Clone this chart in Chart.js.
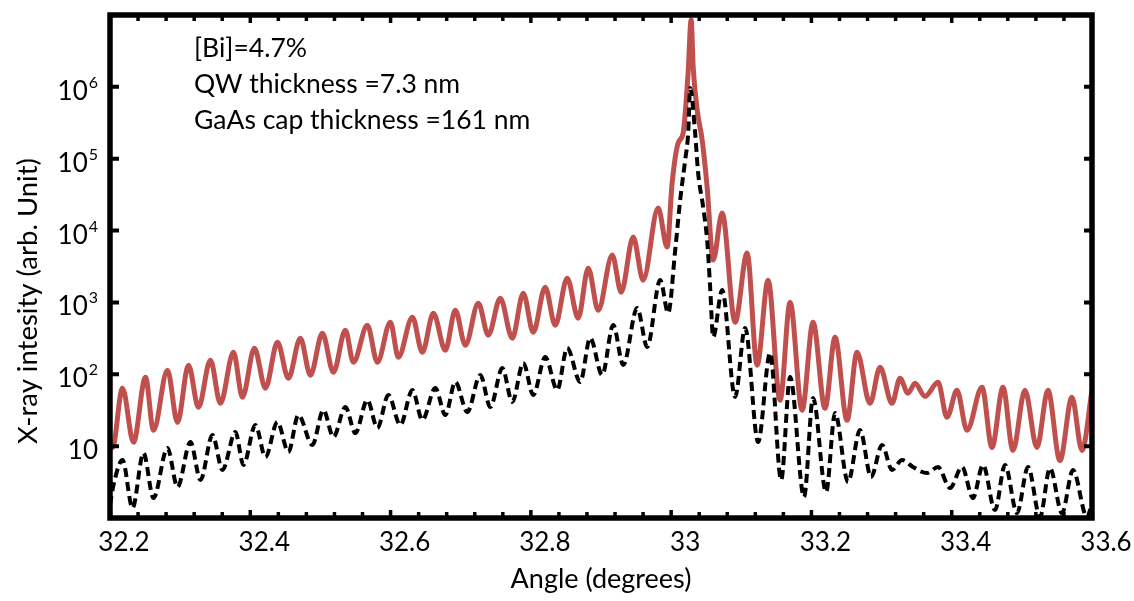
<!DOCTYPE html>
<html lang="en">
<head>
    <meta charset="UTF-8">
    <title>XRD rocking curve</title>
    <script src="https://cdn.jsdelivr.net/npm/chart.js@4.4.0/dist/chart.umd.min.js"></script>
    <style>
        body { margin: 0; background: #fff; }
    </style>
</head>
<body>
    <canvas id="myChart" width="1134" height="601"></canvas>
    <script>
        let measAngle = [32.2, 32.2036, 32.2178, 32.2335, 32.2506, 32.262, 32.2819, 32.2962, 32.3119, 32.3261,
            32.3432, 32.3574, 32.376, 32.3888, 32.4059, 32.4216, 32.4387, 32.4543, 32.4714, 32.4857,
            32.5028, 32.5185, 32.5356, 32.547, 32.5669, 32.5812, 32.5997, 32.6111, 32.6311, 32.6453,
            32.661, 32.6781, 32.6923, 32.7066, 32.7251, 32.7393, 32.7564, 32.7735, 32.7892, 32.8034,
            32.8205, 32.8347, 32.8518, 32.8675, 32.8818, 32.896, 32.916, 32.9288, 32.9459, 32.9601,
            32.9815, 32.9943, 33.0014, 33.01, 33.0171, 33.0242, 33.0285, 33.0314, 33.0371, 33.0442,
            33.0513, 33.0599, 33.0727, 33.0912, 33.1083, 33.1226, 33.1382, 33.1553, 33.1696, 33.1867,
            33.2023, 33.2194, 33.2337, 33.2508, 33.265, 33.2835, 33.2978, 33.3149, 33.3263, 33.3377,
            33.3477, 33.3619, 33.3805, 33.3933, 33.4075, 33.4218, 33.4432, 33.4574, 33.4731, 33.4873,
            33.5044, 33.5215, 33.5372, 33.5543, 33.5714, 33.5857, 33.6];
        let measIntensity = [12, 9.6, 64, 11.3, 91, 16.6, 114, 21.4, 134, 34.7,
            157, 39.4, 203, 47.8, 230, 64, 279, 88, 318, 97,
            373, 107, 411, 147, 482, 147, 531, 173, 623, 203,
            708, 216, 780, 254, 976, 350, 1146, 318, 1345, 385,
            1632, 482, 2177, 603, 3001, 780, 4555, 1389, 8119, 2042,
            20580, 5888, 45910, 165800, 228500, 1567000, 8580000, 1900000, 478000, 182500,
            40390, 3880, 17530, 530, 4857, 134, 2042, 43.4, 1008, 31.5,
            530, 33.6, 328, 22.9, 203, 39.4, 125, 39.4, 88, 54.4,
            75, 49.4, 77.3, 25.2, 59.8, 16.6, 65.9, 9.6, 65.9, 8.7,
            59.8, 9.6, 59.8, 6.3, 47.8, 8.7, 60];

        // simulated scan (black, dashed)
        let simAngle = [32.2, 32.205, 32.2178, 32.2321, 32.2477, 32.262, 32.2819, 32.2962, 32.3147, 32.329,
            32.3461, 32.3603, 32.3788, 32.3902, 32.4073, 32.4216, 32.4387, 32.4543, 32.4686, 32.4885,
            32.5042, 32.5185, 32.5356, 32.5498, 32.5669, 32.5812, 32.5968, 32.6139, 32.6311, 32.6453,
            32.6638, 32.6781, 32.6923, 32.7094, 32.7279, 32.7422, 32.7593, 32.7735, 32.7892, 32.8034,
            32.8205, 32.8376, 32.8518, 32.8704, 32.8846, 32.9017, 32.9174, 32.9317, 32.9516, 32.9659,
            32.9844, 32.9958, 33.0058, 33.0129, 33.02, 33.0243, 33.0271, 33.0342, 33.0385, 33.0456,
            33.0513, 33.0556, 33.0599, 33.0727, 33.0912, 33.1055, 33.124, 33.1411, 33.1568, 33.1696,
            33.1895, 33.2023, 33.2209, 33.2337, 33.2522, 33.2693, 33.285, 33.3007, 33.3149, 33.3292,
            33.3448, 33.3648, 33.3805, 33.3976, 33.4147, 33.4303, 33.4446, 33.4617, 33.476, 33.4931,
            33.5088, 33.5259, 33.5401, 33.5572, 33.5729, 33.5928, 33.6];
        let simIntensity = [1.52, 2.88, 6.41, 1.38, 8.03, 1.9, 9.42, 2.7, 11.4, 3.38,
            14.3, 4.66, 15.7, 5.47, 19.7, 7.06, 21.7, 8.29, 27.1, 10.4,
            31.8, 13.4, 35, 15.2, 43.9, 17.9, 51.5, 19.7, 60.4, 23.1,
            64.4, 27.1, 78.1, 29.9, 97.7, 35, 122, 41.1, 144, 51.5,
            174, 60.4, 232, 78.1, 320, 97.7, 485, 135, 836, 240,
            2051, 713, 5363, 26630, 95920, 227900, 963700, 227900, 63240, 21280,
            7389, 1639, 330, 1489, 48.3, 441, 11.4, 198, 3.38, 91.7,
            1.96, 46.8, 2.3, 28.9, 3.17, 16.8, 3.72, 10.4, 4.66, 6.41,
            5.13, 4.23, 5.13, 2.62, 5.13, 1.9, 5.47, 1.29, 5.47, 1.17,
            5.13, 1.03, 4.96, 1.17, 4.66, 1.03, 1.62];

        let xTickValues = [32.2, 32.4, 32.6, 32.8, 33, 33.2, 33.4, 33.6];
        let xTickLabels = ['32.2', '32.4', '32.6', '32.8', '33', '33.2', '33.4', '33.6'];
        let yTickValues = [10, 100, 1000, 10000, 100000, 1000000];
        let yTickExp = ['', '2', '3', '4', '5', '6'];
        let notes = ['[Bi]=4.7%', 'QW thickness =7.3 nm', 'GaAs cap thickness =161 nm'];

        const FONT = 'Lato';

        // frame, inward ticks, y labels with exponents, y title and the notes
        const framePlugin = {
            id: 'framePlugin',
            afterDatasetsDraw(chart) {
                const c = chart.ctx;
                const a = chart.chartArea;
                const xs = chart.scales.x;
                const ys = chart.scales.y;
                c.save();
                c.strokeStyle = '#000';
                c.fillStyle = '#000';
                c.lineWidth = 3.5;
                // minor x ticks every 0.04, major every 0.2
                for (let i = 0; i <= 35; i++) {
                    let px = xs.getPixelForValue(32.2 + i * 0.04);
                    let len = (i % 5 === 0) ? 8 : 6;
                    c.beginPath();
                    c.moveTo(px, a.bottom); c.lineTo(px, a.bottom - len);
                    c.moveTo(px, a.top); c.lineTo(px, a.top + len);
                    c.stroke();
                }
                c.lineWidth = 4;
                yTickValues.forEach(v => {
                    let py = ys.getPixelForValue(v);
                    c.beginPath();
                    c.moveTo(a.left, py); c.lineTo(a.left + 9, py);
                    c.moveTo(a.right, py); c.lineTo(a.right - 8, py);
                    c.stroke();
                });
                c.lineWidth = 5.5;
                c.strokeRect(a.left, a.top, a.right - a.left, a.bottom - a.top);

                // y tick labels: 10, 10^2 ... 10^6
                c.textBaseline = 'alphabetic';
                c.textAlign = 'right';
                yTickValues.forEach((v, i) => {
                    let py = ys.getPixelForValue(v);
                    let right = 98;
                    if (yTickExp[i]) {
                        c.font = '16px ' + FONT;
                        c.fillText(yTickExp[i], right, py + 1);
                        right -= c.measureText(yTickExp[i]).width + 1;
                    }
                    c.font = '26px ' + FONT;
                    c.fillText('10', right, py + 13);
                });

                // y axis title
                c.save();
                c.translate(28, 301);
                c.rotate(-Math.PI / 2);
                c.textAlign = 'center';
                c.textBaseline = 'middle';
                c.font = '27.5px ' + FONT;
                c.fillText('X-ray intesity (arb. Unit)', 0, 0);
                c.restore();

                // notes in the upper left
                c.textAlign = 'left';
                c.textBaseline = 'alphabetic';
                c.font = '26.5px ' + FONT;
                notes.forEach((t, i) => {
                    c.fillText(t, 194, 57 + i * 35.75);
                });
                c.restore();
            }
        };

        var ctx = document.getElementById('myChart').getContext('2d');
        var myChart = new Chart(ctx, {
            type: 'line',
            data: {
                datasets: [
                    {
                        label: 'simulation',
                        data: simAngle.map((x, i) => ({ x: x, y: simIntensity[i] })),
                        borderColor: '#000000',
                        borderWidth: 4,
                        borderDash: [9, 5],
                        pointRadius: 0,
                        cubicInterpolationMode: 'monotone',
                        fill: false
                    },
                    {
                        label: 'measurement',
                        data: measAngle.map((x, i) => ({ x: x, y: measIntensity[i] })),
                        borderColor: '#C0504D',
                        borderWidth: 5,
                        pointRadius: 0,
                        cubicInterpolationMode: 'monotone',
                        fill: false
                    }
                ]
            },
            options: {
                responsive: false,
                animation: false,
                layout: { padding: { left: 0, right: 42, top: 15, bottom: 0 } },
                plugins: {
                    legend: { display: false },
                    tooltip: { enabled: false }
                },
                scales: {
                    x: {
                        type: 'linear',
                        min: 32.2,
                        max: 33.6,
                        grid: { display: false, drawTicks: false },
                        border: { display: false },
                        afterFit: s => { s.height = 83; },
                        afterBuildTicks: s => { s.ticks = xTickValues.map(v => ({ value: v })); },
                        ticks: {
                            autoSkip: false,
                            maxRotation: 0,
                            padding: 9,
                            labelOffset: 14,
                            color: '#000',
                            font: { family: FONT, size: 26 },
                            callback: (v, i) => xTickLabels[i]
                        },
                        title: {
                            display: true,
                            text: 'Angle (degrees)',
                            color: '#000',
                            font: { family: FONT, size: 27 },
                            padding: { top: 0, bottom: 6 }
                        }
                    },
                    y: {
                        type: 'logarithmic',
                        min: 1,
                        max: 10000000,
                        grid: { display: false, drawTicks: false },
                        border: { display: false },
                        ticks: { display: false },
                        afterFit: s => { s.width = 110; }
                    }
                }
            },
            plugins: [framePlugin]
        });
    </script>
</body>
</html>
